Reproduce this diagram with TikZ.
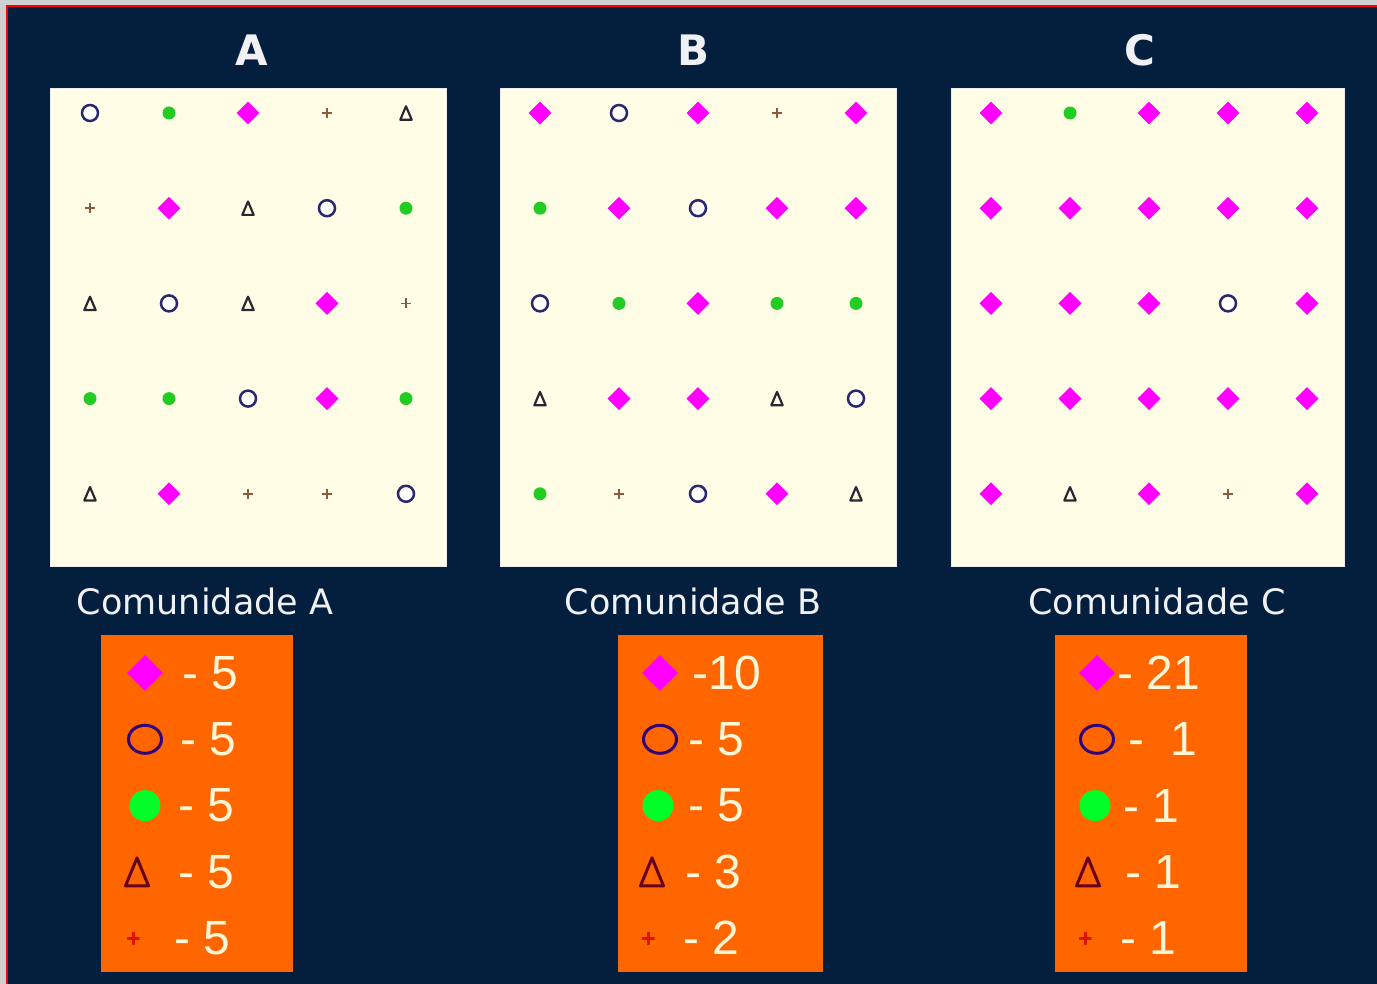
\documentclass[tikz,border=0pt]{standalone}
\usepackage{fontspec}
\setmainfont{DejaVu Sans}
\newfontfamily\numfont{Liberation Sans}
\usepackage{tikz}
\usetikzlibrary{shapes.geometric}
\definecolor{navybg}{RGB}{3,31,61}
\definecolor{framegray}{RGB}{208,208,208}
\definecolor{panelcream}{RGB}{255,253,230}
\definecolor{legorange}{RGB}{255,102,0}
\definecolor{magenta}{RGB}{255,0,255}
\definecolor{dotgreen}{RGB}{34,204,34}
\definecolor{leggreen}{RGB}{0,255,40}
\definecolor{ringblue}{RGB}{40,40,110}
\definecolor{legring}{RGB}{50,0,120}
\definecolor{tridark}{RGB}{40,40,50}
\definecolor{legtri}{RGB}{100,0,30}
\definecolor{plusbrown}{RGB}{140,90,60}
\definecolor{legplus}{RGB}{220,20,0}
\definecolor{numcream}{RGB}{255,245,215}
\definecolor{labwhite}{RGB}{240,240,245}

\begin{document}
\begin{tikzpicture}[x=1pt, y=-1pt,
    panel/.style ={draw=white!85!gray, line width=1.2pt, fill=panelcream, minimum height=478pt, inner sep=0pt},
    legbox/.style={fill=legorange, minimum height=337pt, inner sep=0pt},
    title/.style ={text=labwhite, font=\bfseries\fontsize{42}{42}\selectfont},
    comlab/.style={text=labwhite, font=\fontsize{35}{35}\selectfont},
    num/.style   ={text=numcream, anchor=west, inner sep=0pt, font=\numfont\fontsize{48}{48}\selectfont},
    % grid symbols
    dia/.style ={diamond, fill=magenta, minimum size=23pt, inner sep=0pt},
    ring/.style={circle, draw=ringblue, line width=2.5pt, fill=white, minimum size=16pt, inner sep=0pt},
    dot/.style ={circle, fill=dotgreen, minimum size=13pt, inner sep=0pt},
    tri/.style ={rectangle, inner sep=0pt, minimum width=14pt, minimum height=16pt,
      path picture={\draw[tridark, line width=2.2pt, line join=round]
        ([shift={(1.3pt,1.3pt)}]path picture bounding box.south west) -- ([yshift=-1.3pt]path picture bounding box.north)
        -- ([shift={(-1.3pt,1.3pt)}]path picture bounding box.south east) -- cycle;}},
    plu/.style ={rectangle, inner sep=0pt, minimum size=10pt,
      path picture={\draw[plusbrown, line width=1.5pt]
        (path picture bounding box.north) -- (path picture bounding box.south)
        (path picture bounding box.west) -- (path picture bounding box.east);}},
    % legend symbols
    ldia/.style ={diamond, fill=magenta, minimum size=36pt, inner sep=0pt},
    lring/.style={ellipse, draw=legring, line width=3pt, minimum width=33pt, minimum height=28pt, inner sep=0pt},
    ldot/.style ={circle, fill=leggreen, minimum size=31pt, inner sep=0pt},
    ltri/.style ={rectangle, inner sep=0pt, minimum width=27pt, minimum height=32pt,
      path picture={\draw[legtri, line width=3pt, line join=round]
        ([shift={(2pt,2pt)}]path picture bounding box.south west) -- ([yshift=-2pt]path picture bounding box.north)
        -- ([shift={(-2pt,2pt)}]path picture bounding box.south east) -- cycle;}},
    lplu/.style ={rectangle, inner sep=0pt, minimum size=13pt,
      path picture={\draw[legplus, line width=3pt]
        (path picture bounding box.north) -- (path picture bounding box.south)
        (path picture bounding box.west) -- (path picture bounding box.east);}}]
  \useasboundingbox (0,0) rectangle (1377,984);
  % frame and background
  \fill[framegray] (0,0) rectangle (1377,984);
  \fill[navybg] (7,6) rectangle (1377,984);
  \draw[red, line width=2.4pt] (7,984) -- (7,6) -- (1377,6);
  % communities
  \foreach \cm/\xl/\pw/\tx/\lx/\bx/\bw/\rows in {
      A/50/396/252/205/101/192/{{ring,dot,dia,plu,tri},{plu,dia,tri,ring,dot},{tri,ring,tri,dia,plu},{dot,dot,ring,dia,dot},{tri,dia,plu,plu,ring}},
      B/500/396/693/693/618/205/{{dia,ring,dia,plu,dia},{dot,dia,ring,dia,dia},{ring,dot,dia,dot,dot},{tri,dia,dia,tri,ring},{dot,plu,ring,dia,tri}},
      C/951/393/1140/1157/1055/192/{{dia,dot,dia,dia,dia},{dia,dia,dia,dia,dia},{dia,dia,dia,ring,dia},{dia,dia,dia,dia,dia},{dia,tri,dia,plu,dia}}} {
    \node[title] (title\cm) at (\tx,50) {\cm};
    \node[panel, minimum width=\pw pt, anchor=north west] (panel\cm) at (\xl,88) {};
    \foreach \rowlist [count=\r] in \rows {
      \foreach \s [count=\c] in \rowlist {
        \node[\s] (\cm-\r-\c) at ({\xl+40+79*(\c-1)}, {113+95.2*(\r-1)}) {};
      }
    }
    \node[comlab] (lab\cm) at (\lx,601) {Comunidade \cm};
    \node[legbox, minimum width=\bw pt, anchor=north west] (leg\cm) at (\bx,635) {};
  }
  % legend entries
  \foreach \s/\sx/\nx/\txt [count=\r] in {ldia/145/182/- 5, lring/145/180/- 5, ldot/145/178/- 5, ltri/137/178/- 5, lplu/133/174/- 5} {
    \node[\s] (symA\r) at (\sx,{673+66.3*(\r-1)}) {};
    \node[num] (numA\r) at (\nx,{673+66.3*(\r-1)}) {\txt};
  }
  \foreach \s/\sx/\nx/\txt [count=\r] in {ldia/660/692/-10, lring/660/688/- 5, ldot/658/688/- 5, ltri/652/685/- 3, lplu/648/683/- 2} {
    \node[\s] (symB\r) at (\sx,{673+66.3*(\r-1)}) {};
    \node[num] (numB\r) at (\nx,{673+66.3*(\r-1)}) {\txt};
  }
  \foreach \s/\sx/\nx/\txt [count=\r] in {ldia/1097/1117/- 21, lring/1097/1128/-\ \ 1, ldot/1095/1123/- 1, ltri/1088/1125/- 1, lplu/1085/1120/- 1} {
    \node[\s] (symC\r) at (\sx,{673+66.3*(\r-1)}) {};
    \node[num] (numC\r) at (\nx,{673+66.3*(\r-1)}) {\txt};
  }
\end{tikzpicture}
\end{document}
